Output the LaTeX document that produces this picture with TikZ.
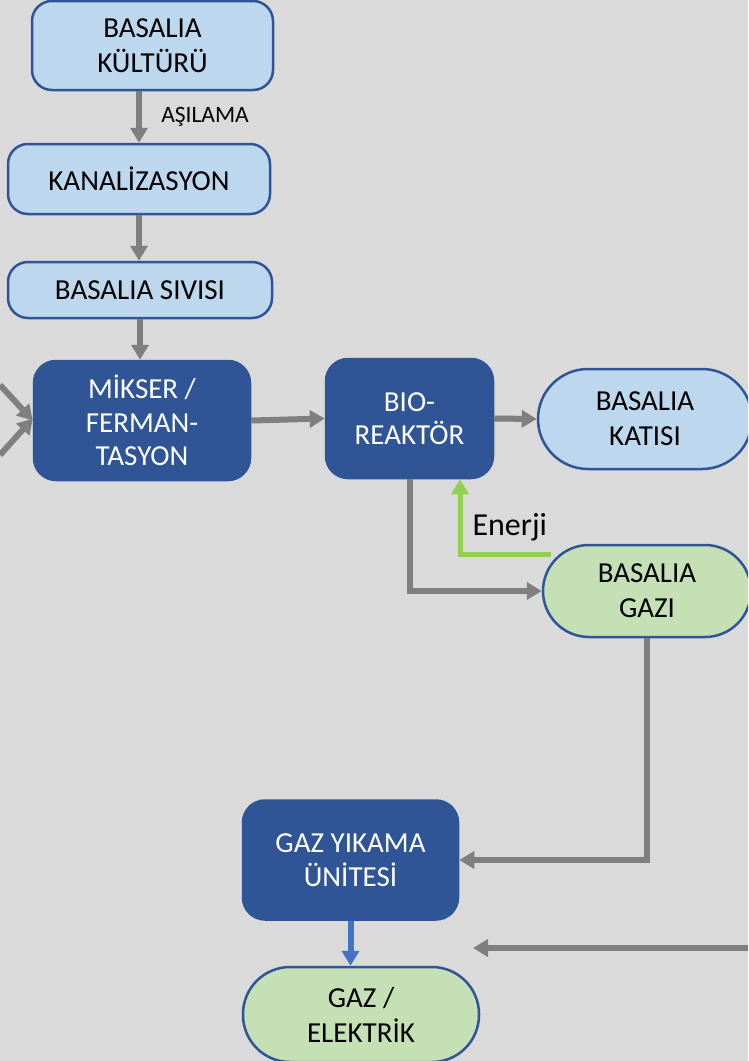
\documentclass[tikz,border=0pt]{standalone}
\usepackage{fontspec}
\setmainfont{Carlito}
\usetikzlibrary{arrows.meta,calc}
\definecolor{bgray}{HTML}{DADADA}
\definecolor{navy}{HTML}{2F5597}
\definecolor{paleblue}{HTML}{BDD7EE}
\definecolor{palegreen}{HTML}{C5E0B4}
\definecolor{flowgray}{HTML}{7F7F7F}
\definecolor{energygreen}{HTML}{92D050}
\definecolor{linkblue}{HTML}{4472C4}
\tikzset{
  base/.style={rectangle, align=center, line width=2.5pt, inner sep=0pt,
    font=\fontsize{29}{35}\selectfont},
  lightbox/.style={base, draw=navy, fill=paleblue, rounded corners=20pt},
  darkbox/.style={base, draw=navy, fill=navy, text=white, rounded corners=22pt,
    font=\fontsize{29}{33.5}\selectfont},
  pill/.style={base, draw=navy, rounded corners=#1},
  flow/.style={draw=flowgray, line width=6pt,
    -{Triangle[length=15pt,width=17pt]}},
  energy/.style={draw=energygreen, line width=5pt,
    -{Triangle[length=15pt,width=17pt]}},
  feed/.style={draw=linkblue, line width=6pt,
    -{Triangle[length=15pt,width=17pt]}},
}
\begin{document}
\begin{tikzpicture}[x=1pt,y=-1pt]
  \useasboundingbox (0,0) rectangle (748,1061);
  \fill[bgray] (0,0) rectangle (748,1061);
  \clip (0,0) rectangle (748,1061);

  % left column: culture, sewage, liquid
  \node[lightbox, minimum width=241pt, minimum height=89pt] (kultur)
    at (152.5,45.5) {BASALIA\\KÜLTÜRÜ};
  \node[lightbox, minimum width=262pt, minimum height=70pt] (kanal)
    at (139,179) {KANALİZASYON};
  \node[lightbox, minimum width=264pt, minimum height=56pt] (sivi)
    at (140,290) {BASALIA SIVISI};

  % process units
  \node[darkbox, minimum width=216pt, minimum height=119pt] (mikser)
    at (142,420.5) {MİKSER /\\FERMAN-\\TASYON};
  \node[darkbox, minimum width=167pt, minimum height=119pt] (bio)
    at (409.5,418.5) {BIO-\\REAKTÖR};
  \node[darkbox, minimum width=215pt, minimum height=119pt] (yikama)
    at (350.5,860) {GAZ YIKAMA\\ÜNİTESİ};

  % products
  \node[pill=50pt, fill=paleblue, minimum width=214pt, minimum height=100pt] (katisi)
    at (645,419) {BASALIA\\KATISI};
  \node[pill=46pt, fill=palegreen, minimum width=208pt, minimum height=92pt] (gazi)
    at (647,591) {BASALIA\\GAZI};
  \node[pill=47pt, fill=palegreen, minimum width=236pt, minimum height=95pt] (elek)
    at (361,1014.5) {GAZ /\\ELEKTRİK};

  % free ends of the incoming/outgoing lines
  \coordinate (lin1) at (0,385);
  \coordinate (lin2) at (0,455);
  \coordinate (rin) at (748,948);
  \coordinate (rtip) at (473,948);
  \coordinate (enerjiout) at (551,554);

  % connectors
  \draw[flow] (kultur.south -| kanal.north) -- (kanal.north);
  \node[font=\fontsize{23.5}{28}\selectfont] (asilama) at (205,117) {AŞILAMA};
  \draw[flow] (kanal.south) -- (kanal.south |- sivi.north);
  \draw[flow] (sivi.south) -- (sivi.south |- mikser.north);
  \draw[flow] (lin1) -- ([yshift=0pt]mikser.west);
  \draw[flow] (lin2) -- ([yshift=2pt]mikser.west);
  \draw[flow] (mikser.east) -- (bio.west);
  \draw[flow] (bio.east) -- (katisi.west);
  \draw[flow] (bio.south) |- (gazi.west);
  \draw[energy] (enerjiout) -| ([xshift=50.5pt]bio.south);
  \node[font=\fontsize{32}{38}\selectfont, anchor=base west] (enerji)
    at (469,535) {Enerji};
  \draw[flow] (gazi.south) |- (yikama.east);
  \draw[feed] (yikama.south) -- (yikama.south |- elek.north);
  \draw[flow] (rin) -- (rtip);
\end{tikzpicture}
\end{document}
